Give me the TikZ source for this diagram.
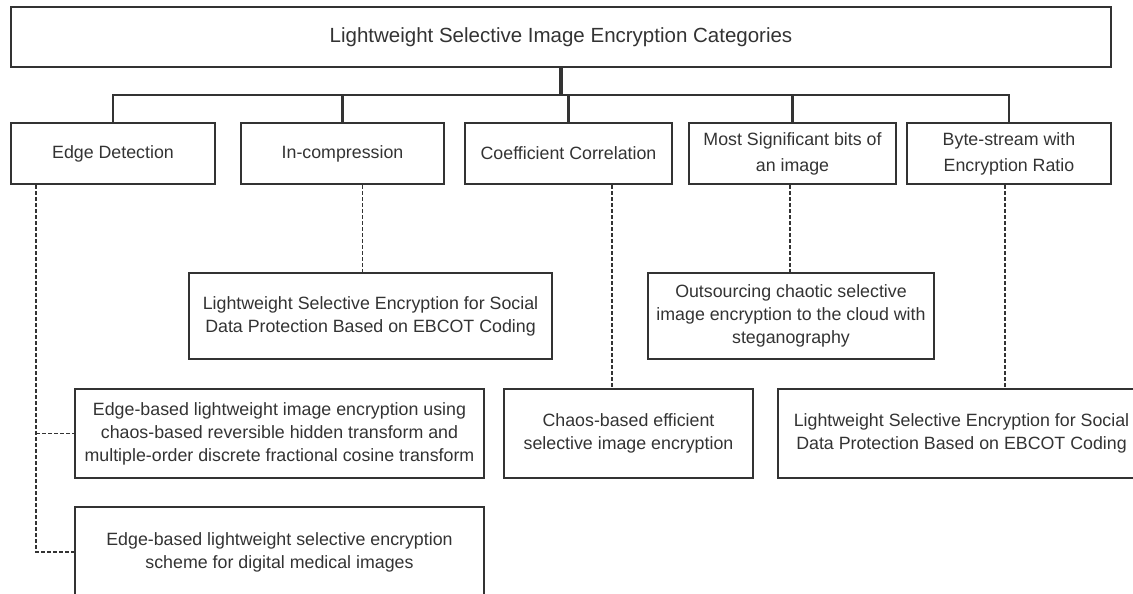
\documentclass[tikz,border=0pt]{standalone}
\usepackage{fontspec}
\setmainfont{Liberation Sans}
\begin{document}
\begin{tikzpicture}[x=1pt,y=-1pt,
  ink/.style={draw=black!80},
  box/.style={ink, line width=2pt, rectangle, inner sep=0pt, align=center,
    text=black!80, font=\fontsize{17.8}{23}\selectfont},
  catbox/.style={box, minimum height=61pt, font=\fontsize{17.8}{26}\selectfont},
  leafbox/.style={box},
  tree/.style={ink, line width=2.2pt},
  link/.style={ink, line width=1.7pt, dash pattern=on 3.5pt off 2.5pt}
]
\useasboundingbox (0,0) rectangle (1133,594);

% root
\node[box, minimum width=1100pt, minimum height=60pt,
      font=\fontsize{20.5}{24}\selectfont] (root) at (561,37)
  {Lightweight Selective Image Encryption Categories};

% categories
\node[catbox, minimum width=204pt] (c1) at (113,153.5) {Edge Detection};
\node[catbox, minimum width=203pt] (c2) at (342.5,153.5) {In-compression};
\node[catbox, minimum width=207pt] (c3) at (568.5,153.5) {Coefficient Correlation};
\node[catbox, minimum width=207pt] (c4) at (792.5,153.5) {Most Significant bits of\\an image};
\node[catbox, minimum width=204pt] (c5) at (1009,153.5) {Byte-stream with\\Encryption Ratio};

% tree from the root to the categories
\coordinate (bus) at (561,95);
\draw[ink, line width=3.2pt] (root.south) -- (bus);
\draw[tree] (c1.north) |- (bus) -| (c5.north);
\draw[tree] (c2.north) -- (c2.north |- bus);
\draw[tree] (c3.north) -- (c3.north |- bus);
\draw[tree] (c4.north) -- (c4.north |- bus);

% works under each category
\node[leafbox, minimum width=363pt, minimum height=86pt] (l2) at (370.5,316)
  {Lightweight Selective Encryption for Social\\Data Protection Based on EBCOT Coding};
\node[leafbox, minimum width=286pt, minimum height=86pt] (l4) at (791,316)
  {Outsourcing chaotic selective\\image encryption to the cloud with\\steganography};
\node[leafbox, minimum width=409pt, minimum height=89pt] (e1) at (279.5,433.5)
  {Edge-based lightweight image encryption using\\chaos-based reversible hidden transform and\\multiple-order discrete fractional cosine transform};
\node[leafbox, minimum width=409pt, minimum height=90pt] (e2) at (279.5,552)
  {Edge-based lightweight selective encryption\\scheme for digital medical images};
\node[leafbox, minimum width=249pt, minimum height=89pt] (l3) at (628.5,433.5)
  {Chaos-based efficient\\selective image encryption};
\node[leafbox, minimum width=367pt, minimum height=89pt] (l5) at (961.5,433.5)
  {Lightweight Selective Encryption for Social\\Data Protection Based on EBCOT Coding};

% dashed links
\coordinate (ed) at ([xshift=26pt]c1.south west);
\draw[link] (ed) |- (e2.west);
\draw[link] (ed |- e1.west) -- (e1.west);
\draw[link] ([xshift=20pt]c2.south) -- ([xshift=20pt]c2.south |- l2.north);
\draw[link] ([xshift=43.5pt]c3.south) -- ([xshift=43.5pt]c3.south |- l3.north);
\draw[link] ([xshift=-2.5pt]c4.south) -- ([xshift=-2.5pt]c4.south |- l4.north);
\draw[link] ([xshift=-4pt]c5.south) -- ([xshift=-4pt]c5.south |- l5.north);
\end{tikzpicture}
\end{document}
